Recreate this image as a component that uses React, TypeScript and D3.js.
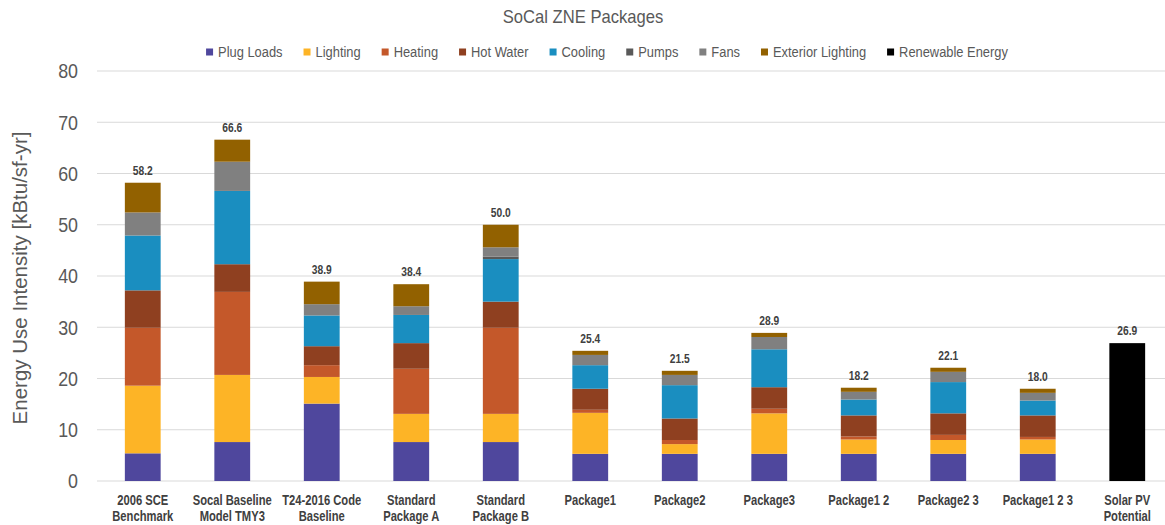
import React, { useEffect, useRef } from "react";
import * as d3 from "d3";

const categories = [
  ["2006 SCE", "Benchmark"],
  ["Socal Baseline", "Model TMY3"],
  ["T24-2016 Code", "Baseline"],
  ["Standard", "Package A"],
  ["Standard", "Package B"],
  ["Package1"],
  ["Package2"],
  ["Package3"],
  ["Package1 2"],
  ["Package2 3"],
  ["Package1 2 3"],
  ["Solar PV", "Potential"],
];

const seriesNames = [
  "Plug Loads",
  "Lighting",
  "Heating",
  "Hot Water",
  "Cooling",
  "Pumps",
  "Fans",
  "Exterior Lighting",
  "Renewable Energy",
];

const seriesColors = [
  "#4F479D",
  "#FDB426",
  "#C4582A",
  "#8F4020",
  "#1A8EC0",
  "#595959",
  "#808080",
  "#926100",
  "#000000",
];

const plugLoads = [5.4, 7.6, 15.1, 7.6, 7.6, 5.3, 5.3, 5.3, 5.3, 5.3, 5.3, 0];
const lighting = [13.2, 13.1, 5.2, 5.5, 5.5, 8.0, 1.9, 7.9, 2.8, 2.7, 2.8, 0];
const heating = [11.3, 16.2, 2.3, 8.8, 16.8, 0.6, 0.8, 0.9, 0.6, 1.0, 0.5, 0];
const hotWater = [7.3, 5.4, 3.7, 5.0, 5.1, 4.1, 4.2, 4.2, 4.1, 4.2, 4.2, 0];
const cooling = [10.7, 14.3, 6.0, 5.5, 8.3, 4.6, 6.5, 7.4, 3.1, 6.1, 2.9, 0];
const pumps = [0, 0, 0, 0, 0.5, 0, 0, 0, 0, 0, 0, 0];
const fans = [4.5, 5.7, 2.2, 1.7, 1.8, 2.0, 2.0, 2.4, 1.5, 2.0, 1.5, 0];
const exteriorLighting = [5.8, 4.3, 4.4, 4.3, 4.4, 0.8, 0.8, 0.8, 0.8, 0.8, 0.8, 0];
const renewableEnergy = [0, 0, 0, 0, 0, 0, 0, 0, 0, 0, 0, 26.9];

const yTicks = [0, 10, 20, 30, 40, 50, 60, 70, 80];

const W = 1165;
const H = 525;
const FONT = "'Liberation Sans', Arial, sans-serif";

export default function App() {
  const ref = useRef<SVGSVGElement | null>(null);

  useEffect(() => {
    const svg = d3.select(ref.current);
    svg.selectAll("*").remove();

    const seriesData = [plugLoads, lighting, heating, hotWater, cooling, pumps, fans, exteriorLighting, renewableEnergy];
    const rows = categories.map((c, i) => {
      const r: any = { key: i };
      seriesNames.forEach((s, j) => (r[s] = seriesData[j][i]));
      return r;
    });
    const stacked = d3.stack<any>().keys(seriesNames)(rows);

    const x = d3
      .scaleBand<number>()
      .domain(categories.map((_, i) => i))
      .range([98, 1172])
      .paddingInner(0.6)
      .paddingOuter(0.3);
    const y = d3.scaleLinear().domain([0, 80]).range([481, 71]);

    // gridlines
    svg
      .append("g")
      .selectAll("line")
      .data(yTicks)
      .join("line")
      .attr("x1", 97)
      .attr("x2", W)
      .attr("y1", (d) => y(d))
      .attr("y2", (d) => y(d))
      .attr("stroke", "#D9D9D9")
      .attr("stroke-width", 1);

    // y tick labels
    svg
      .append("g")
      .selectAll("text")
      .data(yTicks)
      .join("text")
      .attr("transform", (d) => `translate(78,${y(d)}) scale(0.85,1)`)
      .attr("dy", "0.35em")
      .attr("text-anchor", "end")
      .attr("font-family", FONT)
      .attr("font-size", 21)
      .attr("fill", "#595959")
      .text((d) => d);

    // y title
    svg
      .append("text")
      .attr("transform", `translate(27,${y(40) + 2}) rotate(-90)`)
      .attr("text-anchor", "middle")
      .attr("font-family", FONT)
      .attr("font-size", 20.5)
      .attr("fill", "#595959")
      .text("Energy Use Intensity [kBtu/sf-yr]");

    // bars
    const g = svg.append("g");
    stacked.forEach((layer, j) => {
      g.append("g")
        .attr("fill", seriesColors[j])
        .selectAll("rect")
        .data(layer.filter((d) => d[1] - d[0] > 0))
        .join("rect")
        .attr("x", (d: any) => x(d.data.key)!)
        .attr("width", x.bandwidth())
        .attr("y", (d) => y(d[1]))
        .attr("height", (d) => y(d[0]) - y(d[1]));
    });

    // totals
    const totals = rows.map((r) => d3.sum(seriesNames, (s) => r[s]));
    svg
      .append("g")
      .selectAll("text")
      .data(totals)
      .join("text")
      .attr("transform", (d, i) => `translate(${x(i)! + x.bandwidth() / 2},${y(d) - 8}) scale(0.82,1)`)
      .attr("text-anchor", "middle")
      .attr("font-family", FONT)
      .attr("font-weight", "bold")
      .attr("font-size", 12.5)
      .attr("fill", "#404040")
      .text((d) => d.toFixed(1));

    // x labels
    const xl = svg
      .append("g")
      .selectAll("text")
      .data(categories)
      .join("text")
      .attr("transform", (_, i) => `translate(${x(i)! + x.bandwidth() / 2},505) scale(0.8,1)`)
      .attr("text-anchor", "middle")
      .attr("font-family", FONT)
      .attr("font-weight", "bold")
      .attr("font-size", 14)
      .attr("fill", "#404040");
    xl.selectAll("tspan")
      .data((d) => d)
      .join("tspan")
      .attr("x", 0)
      .attr("dy", (_, k) => (k === 0 ? 0 : 16))
      .text((d) => d);

    // title
    svg
      .append("text")
      .attr("transform", "translate(583,23) scale(0.95,1)")
      .attr("text-anchor", "middle")
      .attr("font-family", FONT)
      .attr("font-size", 17.5)
      .attr("fill", "#595959")
      .text("SoCal ZNE Packages");

    // legend
    const SX = 0.86;
    const leg = svg.append("g");
    let cx = 0;
    seriesNames.forEach((s, j) => {
      const it = leg.append("g");
      it.append("rect").attr("x", 0).attr("y", -3.5).attr("width", 7).attr("height", 7).attr("fill", seriesColors[j]);
      const t = it
        .append("text")
        .attr("transform", `translate(12,0) scale(${SX},1)`)
        .attr("dy", "0.35em")
        .attr("font-family", FONT)
        .attr("font-size", 15)
        .attr("fill", "#595959")
        .text(s);
      const w = (t.node() as SVGTextElement).getComputedTextLength() * SX;
      it.attr("transform", `translate(${cx},0)`);
      cx += 12 + w + 21;
    });
    const totalW = cx - 21;
    leg.attr("transform", `translate(${607 - totalW / 2},52)`);
  }, []);

  return (
    <svg
      ref={ref}
      width={W}
      height={H}
      style={{ position: "absolute", left: 0, top: 0, background: "#fff" }}
    />
  );
}
